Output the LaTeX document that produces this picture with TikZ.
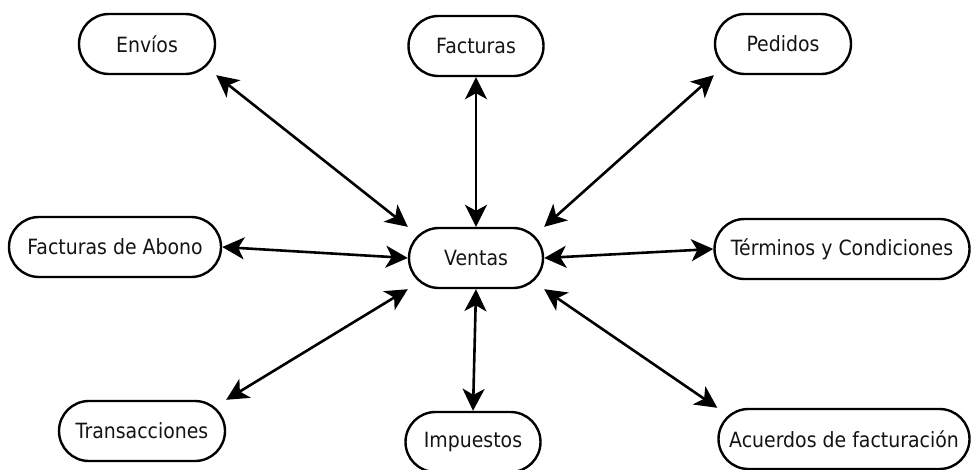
\documentclass[tikz,border=0pt]{standalone}
\usepackage{fontspec}
\setmainfont{DejaVu Sans}[FakeStretch=0.9]
\usetikzlibrary{arrows.meta}
\tikzset{
  entity/.style={draw=black, line width=2.4pt, rounded corners=30pt, fill=white,
    text=black!92, font=\fontsize{21pt}{25pt}\selectfont, inner sep=0pt,
    minimum height=60pt},
  link/.style={line width=2.6pt, draw=black,
    {Stealth[length=22pt,width=22pt,inset=6pt]}-{Stealth[length=22pt,width=22pt,inset=6pt]}}
}
\begin{document}
\begin{tikzpicture}[x=1pt,y=-1pt]
\useasboundingbox (0,0) rectangle (971,469);
\node[entity, minimum width=136pt] (envios)    at (147,44)  {Envíos};
\node[entity, minimum width=135pt] (facturas)  at (476,46)  {Facturas};
\node[entity, minimum width=136pt] (pedidos)   at (783,44)  {Pedidos};
\node[entity, minimum width=212pt] (abono)     at (115,247) {Facturas de Abono};
\node[entity, minimum width=134pt] (ventas)    at (476,258) {Ventas};
\node[entity, minimum width=255pt] (terminos)  at (842,249) {Términos y Condiciones};
\node[entity, minimum width=166pt] (trans)     at (142,431) {Transacciones};
\node[entity, minimum width=135pt] (impuestos) at (473,442) {Impuestos};
\node[entity, minimum width=251pt] (acuerdos)  at (844,439) {Acuerdos de facturación};

\draw[link] (envios.south east) -- (ventas.north west);
\draw[link] (facturas.south) -- (ventas.north);
\draw[link] (pedidos.south west) -- (ventas.north east);
\draw[link] (abono.east) -- (ventas.west);
\draw[link] (terminos.west) -- (ventas.east);
\draw[link] (trans.north east) -- (ventas.south west);
\draw[link] (impuestos.north) -- (ventas.south);
\draw[link] (acuerdos.north west) -- (ventas.south east);
\end{tikzpicture}
\end{document}
